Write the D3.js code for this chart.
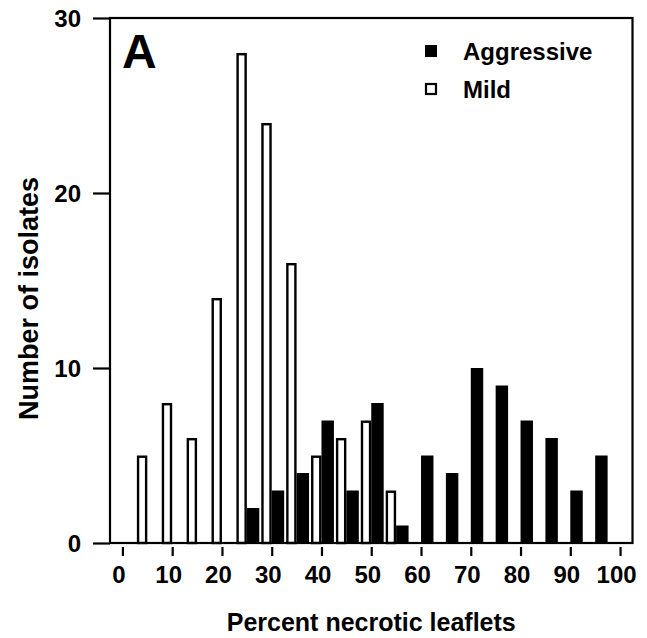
<!DOCTYPE html>
<html>
<head>
<meta charset="utf-8">
<script src="https://cdn.jsdelivr.net/npm/d3@7"></script>
<style>
  body { margin: 0; background: #fff; }
  text { font-family: "Liberation Sans", Arial, sans-serif; font-weight: bold; fill: #000; }
</style>
</head>
<body>
<div id="chart"></div>
<script>
// bin centres (percent necrotic leaflets)
const mildBins = [5, 10, 15, 20, 25, 30, 35, 40, 45, 50, 55];
const mildCounts = [5, 8, 6, 14, 28, 24, 16, 5, 6, 7, 3];
const aggressiveBins = [25, 30, 35, 40, 45, 50, 55, 60, 65, 70, 75, 80, 85, 90, 95];
const aggressiveCounts = [2, 3, 4, 7, 3, 8, 1, 5, 4, 10, 9, 7, 6, 3, 5];
const xTicks = [0, 10, 20, 30, 40, 50, 60, 70, 80, 90, 100];
const yTicks = [0, 10, 20, 30];

class Histogram {
  constructor(_config) {
    this.config = {
      parentElement: _config.parentElement,
      width: 647,
      height: 638,
      margin: { top: 18, right: 14.5, bottom: 95, left: 110 }
    };
    this.initVis();
  }

  initVis() {
    const vis = this;
    vis.width = vis.config.width - vis.config.margin.left - vis.config.margin.right;
    vis.height = vis.config.height - vis.config.margin.top - vis.config.margin.bottom;

    vis.svg = d3.select(vis.config.parentElement)
      .append("svg")
      .attr("width", vis.config.width)
      .attr("height", vis.config.height)
      .append("g")
      .attr("transform", `translate(${vis.config.margin.left},${vis.config.margin.top})`);

    vis.xScale = d3.scaleLinear().domain([-2.5, 102.5]).range([0, vis.width]);
    vis.yScale = d3.scaleLinear().domain([0, 30]).range([vis.height, 0]);

    vis.updateVis();
  }

  updateVis() {
    const vis = this;
    const x = vis.xScale, y = vis.yScale;

    const mild = mildBins.map((b, i) => ({ bin: b, count: mildCounts[i] }));
    const aggr = aggressiveBins.map((b, i) => ({ bin: b, count: aggressiveCounts[i] }));

    // aggressive (black) bars
    vis.svg.selectAll(".aggr")
      .data(aggr)
      .join("rect")
      .attr("class", "aggr")
      .attr("x", d => x(d.bin))
      .attr("width", d => x(d.bin + 2.5) - x(d.bin))
      .attr("y", d => y(d.count))
      .attr("height", d => y(0) - y(d.count))
      .attr("fill", "#000");

    // mild (open) bars
    vis.svg.selectAll(".mild")
      .data(mild)
      .join("rect")
      .attr("class", "mild")
      .attr("x", d => x(d.bin - 2.1) + 1.2)
      .attr("width", d => x(d.bin) - x(d.bin - 2.1) - 2.4)
      .attr("y", d => y(d.count) + 1.2)
      .attr("height", d => y(0) - y(d.count) - 1.2)
      .attr("fill", "#fff")
      .attr("stroke", "#000")
      .attr("stroke-width", 2.4);

    // frame
    vis.svg.append("rect")
      .attr("width", vis.width)
      .attr("height", vis.height)
      .attr("fill", "none")
      .attr("stroke", "#000")
      .attr("stroke-width", 2.2);

    // y axis
    const yAxis = vis.svg.append("g")
      .call(d3.axisLeft(y).tickValues(yTicks).tickSize(17).tickPadding(12));
    yAxis.select(".domain").remove();
    yAxis.selectAll("line").attr("stroke-width", 2.2);
    yAxis.selectAll("text").style("font-size", "24px").attr("dy", "0.36em");

    // x axis (ticks sit below the frame with a small gap)
    const xAxis = vis.svg.append("g")
      .attr("transform", `translate(0,${vis.height + 4})`)
      .call(d3.axisBottom(x).tickValues(xTicks).tickSize(9).tickPadding(10));
    xAxis.select(".domain").remove();
    xAxis.selectAll("line").attr("stroke-width", 2.2);
    xAxis.selectAll("text").style("font-size", "24px").attr("dx", -4);

    // axis titles
    vis.svg.append("text")
      .attr("x", vis.width / 2)
      .attr("y", vis.height + 88)
      .attr("text-anchor", "middle")
      .style("font-size", "25px")
      .text("Percent necrotic leaflets");

    vis.svg.append("text")
      .attr("transform", "rotate(-90)")
      .attr("x", -(vis.height / 2) - 18)
      .attr("y", -72)
      .attr("text-anchor", "middle")
      .style("font-size", "27px")
      .text("Number of isolates");

    // panel letter
    vis.svg.append("text")
      .attr("x", 12)
      .attr("y", 50)
      .style("font-size", "48px")
      .text("A");

    // legend
    const legend = vis.svg.append("g").attr("transform", "translate(315,0)");
    legend.append("rect")
      .attr("x", 0).attr("y", 27).attr("width", 12).attr("height", 12)
      .attr("fill", "#000");
    legend.append("rect")
      .attr("x", 1).attr("y", 66).attr("width", 10).attr("height", 10)
      .attr("fill", "#fff").attr("stroke", "#000").attr("stroke-width", 2.2);
    legend.append("text")
      .attr("x", 38).attr("y", 42)
      .style("font-size", "24px")
      .text("Aggressive");
    legend.append("text")
      .attr("x", 38).attr("y", 80)
      .style("font-size", "24px")
      .text("Mild");
  }
}

new Histogram({ parentElement: "#chart" });
</script>
</body>
</html>
